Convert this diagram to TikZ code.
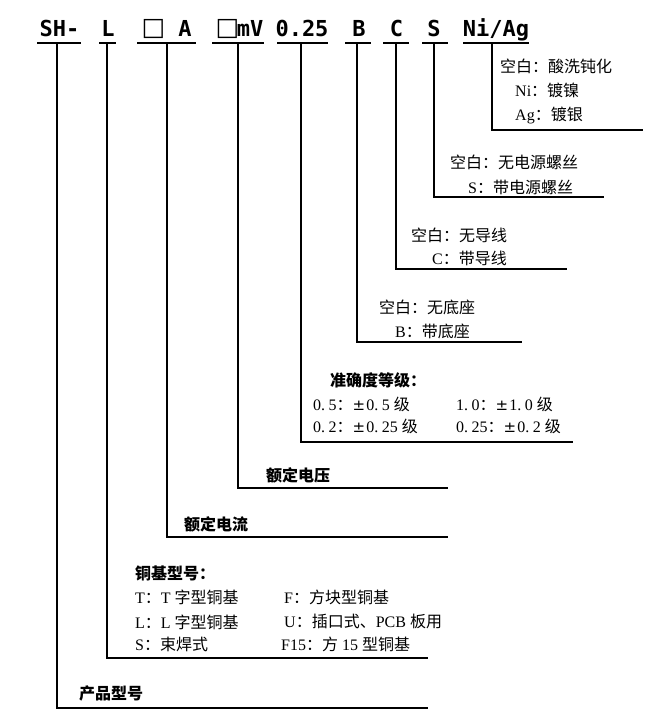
\documentclass[tikz,border=0pt]{standalone}
\usepackage{fontspec}
\setmainfont{Liberation Serif}
\newfontfamily\cjk{Noto Sans CJK SC}
\newfontfamily\hdrfont{DejaVu Sans Mono}
\newfontfamily\symfont{DejaVu Sans}
\newcommand\zh[1]{{\cjk #1}}
\newcommand\zhb[1]{{\cjk\bfseries #1}}
\newcommand\pmsym{{\symfont\fontsize{15}{16}\selectfont ±}\kern1pt}
\newcommand\dotk{.\kern3.5pt}
\tikzset{
  ln/.style={line width=1.6pt, line cap=rect},
  hdr/.style={inner sep=0pt, anchor=base, font=\hdrfont\bfseries\fontsize{22}{22}\selectfont},
  boxsym/.style={inner sep=0pt, anchor=base, font=\symfont\fontsize{25}{25}\selectfont},
  txt/.style={inner sep=0pt, anchor=west, font=\fontsize{16}{16}\selectfont},
}
\begin{document}
\begin{tikzpicture}[x=1pt,y=-1pt]
\useasboundingbox (0,0) rectangle (650,717);
% header tokens
\node[hdr] (h1) at (59.5,37) {SH-};
\node[hdr] (h2) at (108,37) {L};
\node[boxsym] (h3a) at (153.5,35.5) {□};
\node[hdr] (h3b) at (185,37) {A};
\node[boxsym] (h4a) at (227.5,35.5) {□};
\node[hdr] (h4b) at (250,37) {mV};
\node[hdr] (h5) at (302,37) {0.25};
\node[hdr] (h6) at (359,37) {B};
\node[hdr] (h7) at (396.5,37) {C};
\node[hdr] (h8) at (434,37) {S};
\node[hdr] (h9) at (496,37) {Ni/Ag};
% underlines
\draw[ln] (38,43) -- (80,43);
\draw[ln] (100,43) -- (115,43);
\draw[ln] (138,43) -- (195,43);
\draw[ln] (213,43) -- (263,43);
\draw[ln] (278,43) -- (327,43);
\draw[ln] (346,43) -- (370,43);
\draw[ln] (384,43) -- (408,43);
\draw[ln] (423,43) -- (447,43);
\draw[ln] (464,43) -- (528,43);
% connector tops and ends
\coordinate (t1) at (57,43);   \coordinate (e1) at (427,708);
\coordinate (t2) at (107,43);  \coordinate (e2) at (427,658);
\coordinate (t3) at (167,43);  \coordinate (e3) at (447,537);
\coordinate (t4) at (238,43);  \coordinate (e4) at (447,488);
\coordinate (t5) at (301,43);  \coordinate (e5) at (572,442);
\coordinate (t6) at (357,43);  \coordinate (e6) at (521,342);
\coordinate (t7) at (396,43);  \coordinate (e7) at (566,269);
\coordinate (t8) at (434,43);  \coordinate (e8) at (603,197);
\coordinate (t9) at (492,43);  \coordinate (e9) at (642,130);
\foreach \i in {1,...,9}{\draw[ln] (t\i) |- (e\i);}
% labels
\node[txt] (a1) at (500,66) {\zh{空白：酸洗钝化}};
\node[txt] (a2) at (515,90) {Ni\zh{：镀镍}};
\node[txt] (a3) at (515,115) {Ag\zh{：镀银}};
\node[txt] (b1) at (450,162) {\zh{空白：无电源螺丝}};
\node[txt] (b2) at (468,187) {S\zh{：带电源螺丝}};
\node[txt] (c1) at (411,235) {\zh{空白：无导线}};
\node[txt] (c2) at (432,258) {C\zh{：带导线}};
\node[txt] (d1) at (379,307) {\zh{空白：无底座}};
\node[txt] (d2) at (395,331) {B\zh{：带底座}};
\node[txt] (f0) at (330,380) {\zhb{准确度等级：}};
\node[txt] (f1) at (313,404) {0\dotk 5\zh{：}\pmsym 0\dotk 5 \zh{级}};
\node[txt] (f2) at (456,404) {1\dotk 0\zh{：}\pmsym 1\dotk 0 \zh{级}};
\node[txt] (f3) at (313,426) {0\dotk 2\zh{：}\pmsym 0\dotk 25 \zh{级}};
\node[txt] (f4) at (456,426) {0\dotk 25\zh{：}\pmsym 0\dotk 2 \zh{级}};
\node[txt] (g1) at (266,475) {\zhb{额定电压}};
\node[txt] (g2) at (184,524) {\zhb{额定电流}};
\node[txt] (k0) at (135,573) {\zhb{铜基型号：}};
\node[txt] (k1) at (135,597) {T\zh{：}T \zh{字型铜基}};
\node[txt] (k2) at (284,597) {F\zh{：方块型铜基}};
\node[txt] (k3) at (135,622) {L\zh{：}L \zh{字型铜基}};
\node[txt] (k4) at (284,621) {U\zh{：插口式、}PCB \zh{板用}};
\node[txt] (k5) at (135,644) {S\zh{：束焊式}};
\node[txt] (k6) at (281,644) {F15\zh{：方} 15 \zh{型铜基}};
\node[txt] (p0) at (79,693) {\zhb{产品型号}};
\end{tikzpicture}
\end{document}
